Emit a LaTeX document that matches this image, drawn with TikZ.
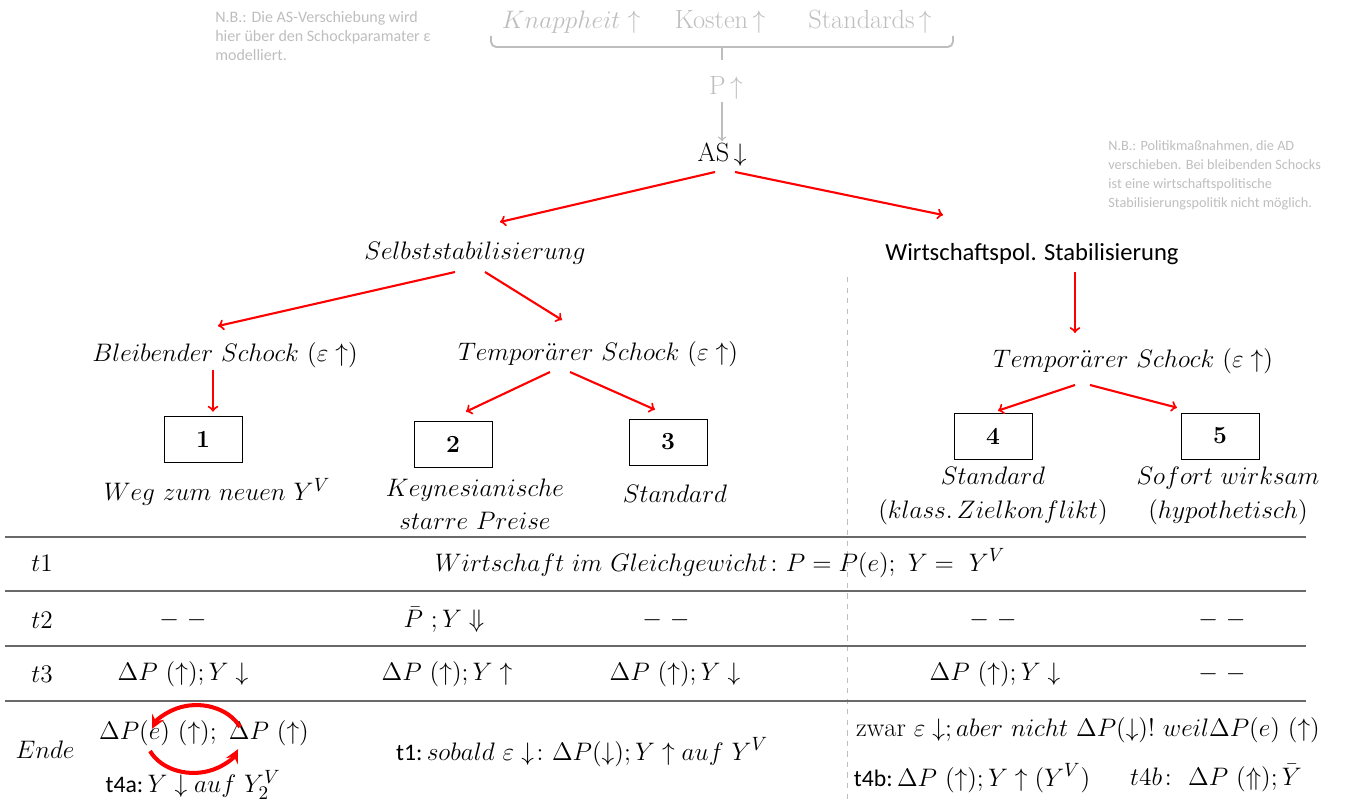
\documentclass[tikz,border=0pt]{standalone}
\usepackage{fontspec}
\usepackage{amsmath}
\newfontfamily\calibri{Carlito}
\newcommand{\tlab}[1]{{\calibri\fontsize{13.5}{16}\selectfont #1}}
\usetikzlibrary{arrows,positioning,calc}
\usepackage{xcolor}
\definecolor{schockrot}{RGB}{255,0,0}
\definecolor{hinweis}{RGB}{190,190,190}
\definecolor{linie}{RGB}{105,105,105}

\begin{document}
\begin{tikzpicture}[x=0.02cm, y=-0.02cm]
    \tikzstyle{lbl} = [font=\fontsize{15}{19}\selectfont, align=center, inner sep=1pt]
    \tikzstyle{grau} = [lbl, text=hinweis]
    \tikzstyle{note} = [font=\calibri\fontsize{9.1}{10.8}\selectfont, text=hinweis, align=left, anchor=north west, inner sep=0pt]
    \tikzstyle{fall} = [rectangle, draw, thin, minimum width=1.56cm, minimum height=0.92cm, font=\bfseries\fontsize{14}{16}\selectfont]
    \tikzstyle{schock} = [draw=schockrot, line width=1.2pt, ->]
    \tikzstyle{kreis} = [draw=schockrot, line width=2.3pt, -stealth]
    \tikzstyle{zeile} = [draw=linie, line width=1.1pt]
    \useasboundingbox (0,0) rectangle (1361,800);

    % Hinweise
    \node[note] (nb1) at (215,11) {N.B.: Die AS-Verschiebung wird\\hier über den Schockparamater ε\\modelliert.};
    \node[note, font=\calibri\fontsize{8.1}{10.8}\selectfont] (nb2) at (1108,140) {N.B.: Politikmaßnahmen, die AD\\verschieben. Bei bleibenden Schocks\\ist eine wirtschaftspolitische\\Stabilisierungspolitik nicht möglich.};

    % Ursachen des Schocks
    \node[grau] (knapp) at (571,22) {$Knappheit\uparrow$};
    \node[grau] (kosten) at (720,22) {Kosten\,$\uparrow$};
    \node[grau] (stand) at (870,22) {Standards\,$\uparrow$};
    \draw[hinweis, line width=1.1pt, rounded corners=3pt] (491,36) -- (491,47) -- (953,47) -- (953,36);
    \draw[hinweis, line width=1.1pt] (722,47) -- (722,60);
    \node[grau] (p) at (726,88) {P\,$\uparrow$};
    \node[lbl] (as) at (722,155) {AS\,$\downarrow$};
    \draw[hinweis, thick, ->] (p.south -| as) -- (as.north);

    % Zweige
    \node[lbl] (selbst) at (475,253) {$Selbststabilisierung$};
    \node[lbl, font=\calibri\fontsize{14}{17}\selectfont] (wirt) at (1032,254) {Wirtschaftspol. Stabilisierung};
    \node[lbl] (bleib) at (225,355) {$Bleibender\ Schock\ (\varepsilon\uparrow)$};
    \node[lbl] (temp1) at (598,354) {$Tempor\ddot{a}rer\ Schock\ (\varepsilon\uparrow)$};
    \node[lbl] (temp2) at (1133,361) {$Tempor\ddot{a}rer\ Schock\ (\varepsilon\uparrow)$};

    % Faelle
    \node[fall] (f1) at (203,439) {1};
    \node[fall] (f2) at (453,444) {2};
    \node[fall] (f3) at (668,442) {3};
    \node[fall] (f4) at (993,436) {4};
    \node[fall] (f5) at (1220,436) {5};
    \node[lbl] (w1) at (217,492) {$Weg\ zum\ neuen\ Y^V$};
    \node[lbl] (w2) at (475,504) {$Keynesianische$\\$starre\ Preise$};
    \node[lbl] (w3) at (675,494) {$Standard$};
    \node[lbl] (w4) at (993,496) {$Standard$\\$(klass.\,Zielkonflikt)$};
    \node[lbl] (w5) at (1228,496) {$Sofort\ wirksam$\\$(hypothetisch)$};

    % Pfeile
    \draw[schock] ($(as)+(-7,17)$) -- ($(selbst)+(25,-31)$);
    \draw[schock] ($(as)+(13,17)$) -- ($(wirt)+(-89,-39)$);
    \draw[schock] ($(selbst)+(-20,19)$) -- ($(bleib)+(-7,-29)$);
    \draw[schock] ($(selbst)+(10,19)$) -- ($(temp1)+(-36,-34)$);
    \draw[schock] ($(wirt)+(43,18)$) -- ($(temp2)+(-58,-28)$);
    \draw[schock] ($(bleib)+(-12,15)$) -- ($(f1.north)+(10,-4)$);
    \draw[schock] ($(temp1)+(-48,18)$) -- ($(f2.north)+(13,-9)$);
    \draw[schock] ($(temp1)+(-28,18)$) -- ($(f3.north)+(-13,-9)$);
    \draw[schock] ($(temp2)+(-58,24)$) -- ($(f4.north)+(5,-2)$);
    \draw[schock] ($(temp2)+(-43,24)$) -- ($(f5.north)+(-43,-5)$);

    % Tabelle
    \draw[hinweis, dashed] (847,277) -- (847,800);
    \foreach \y in {537,591,646,701}
        \draw[zeile] (5,\y) -- (1306,\y);

    \node[lbl] (t1) at (42,563) {$t1$};
    \node[lbl] (t2) at (42,620) {$t2$};
    \node[lbl] (t3) at (42,674) {$t3$};
    \node[lbl] (ende) at (45,750) {$Ende$};

    \node[lbl] (gg) at (720,563) {$Wirtschaft\ im\ Gleichgewicht\colon P=P(e);\ Y=\ Y^V$};

    \node[lbl] (a2) at (183,620) {$-\ -$};
    \node[lbl] (b2) at (444,620) {$\bar{P}\ ; Y\Downarrow$};
    \node[lbl] (c2) at (666,620) {$-\ -$};
    \node[lbl] (d2) at (993,620) {$-\ -$};
    \node[lbl] (e2) at (1222,620) {$-\ -$};

    \node[lbl] (a3) at (183,674) {$\Delta P\ (\uparrow); Y\downarrow$};
    \node[lbl] (b3) at (447,674) {$\Delta P\ (\uparrow); Y\uparrow$};
    \node[lbl] (c3) at (675,674) {$\Delta P\ (\uparrow); Y\downarrow$};
    \node[lbl] (d3) at (995,674) {$\Delta P\ (\uparrow); Y\downarrow$};
    \node[lbl] (e3) at (1222,674) {$-\ -$};

    \node[lbl] (dpe) at (204,733) {$\Delta P(e)\ (\uparrow);\ \Delta P\ (\uparrow)$};
    \node[lbl] (t4a) at (193,785) {\tlab{t4a:}\,$Y\downarrow auf\ Y_2^V$};
    \node[lbl] (sobald) at (582,752) {\tlab{t1:}\,$sobald\ \varepsilon\downarrow\colon\Delta P(\downarrow); Y\uparrow auf\ Y^V$};
    \node[lbl] (zwar) at (1088,730) {$\mathrm{zwar}\ \varepsilon\downarrow; aber\ nicht\ \Delta P(\downarrow)!\ weil\Delta P(e)\ (\uparrow)$};
    \node[lbl] (t4b) at (972,778) {\tlab{t4b:}\,$\Delta P\ (\uparrow); Y\uparrow(Y^V)$};
    \node[lbl] (t4bh) at (1216,778) {$t4b\colon\ \Delta P\ (\Uparrow); \bar{Y}$};

    % Kreislauf
    \draw[kreis] ($(dpe)+(36,-6)$) arc[start angle=-25, end angle=-158, x radius=48, y radius=38];
    \draw[kreis] ($(dpe)+(-54,18)$) arc[start angle=155, end angle=22, x radius=48, y radius=38];
\end{tikzpicture}
\end{document}
